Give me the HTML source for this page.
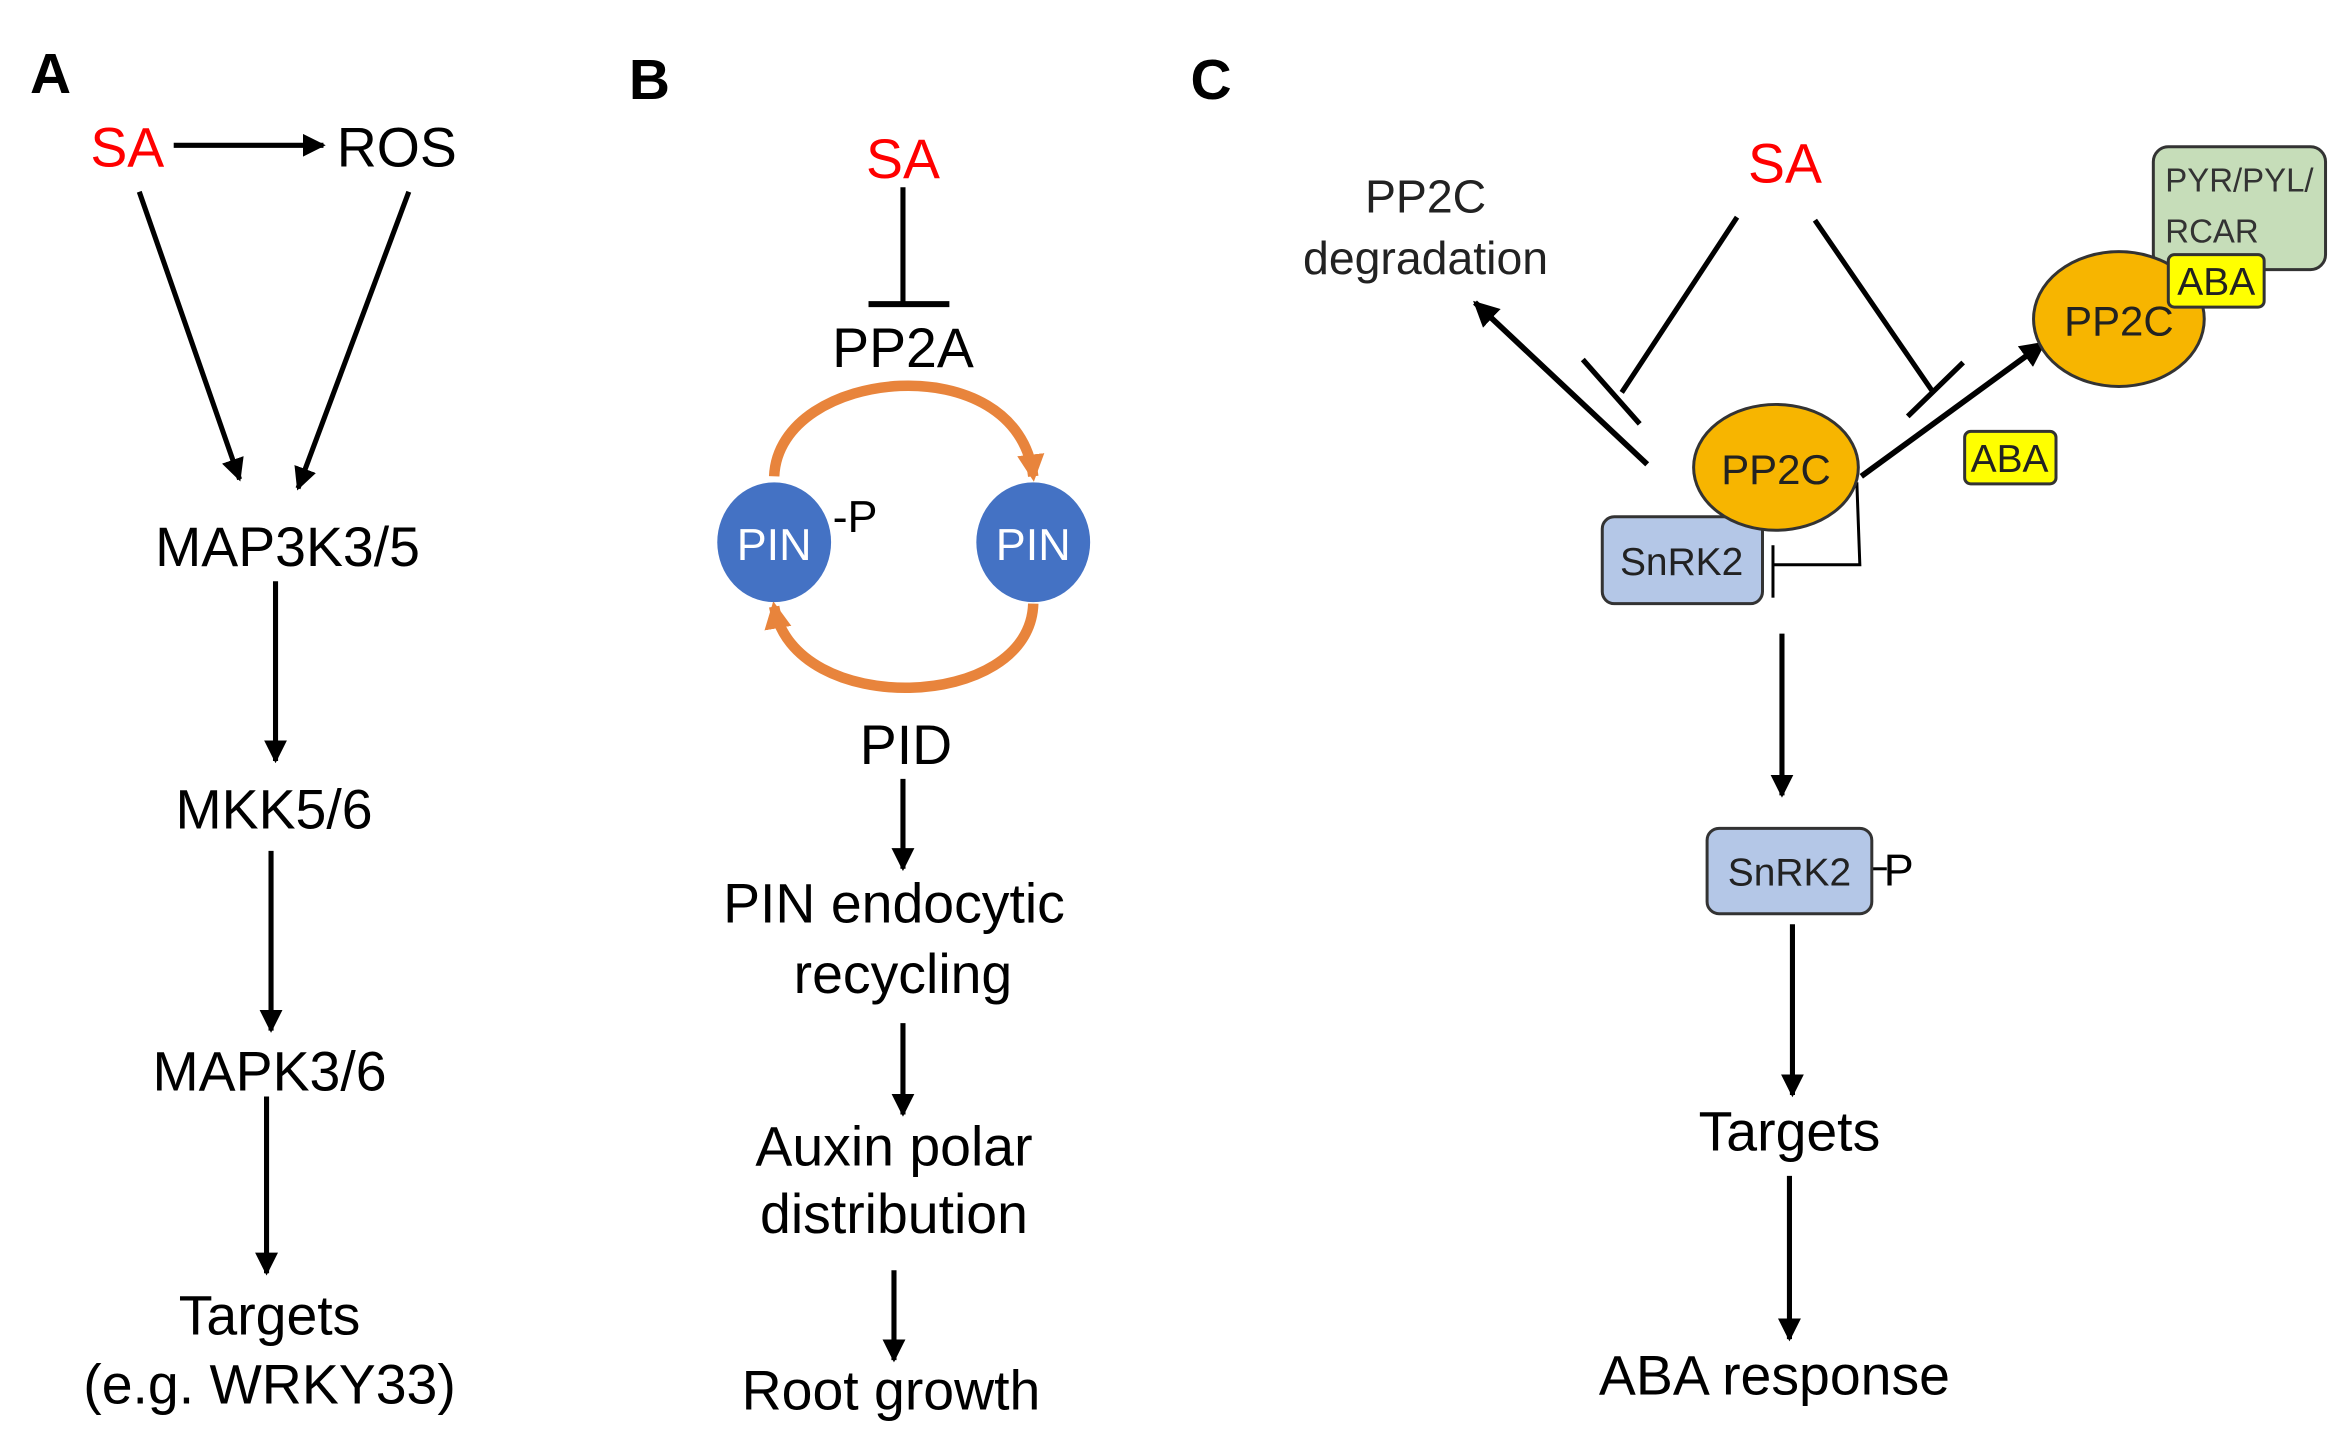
<!DOCTYPE html>
<html><head><meta charset="utf-8"><style>
html,body{margin:0;padding:0;background:#fff;}
svg{display:block;}
text{font-family:"Liberation Sans",Arial,sans-serif;}
</style></head><body>
<svg width="2348" height="1441" viewBox="0 0 1568 962" preserveAspectRatio="none" xmlns="http://www.w3.org/2000/svg">
<defs>
<marker id="ah" viewBox="0 0 10 10" refX="9" refY="5" markerWidth="4.5" markerHeight="4.5" orient="auto" markerUnits="strokeWidth"><path d="M0,0 L10,5 L0,10 z" fill="#000"/></marker>
<marker id="oh" viewBox="0 0 10 10" refX="8" refY="5" markerWidth="2.6" markerHeight="2.6" orient="auto" markerUnits="strokeWidth"><path d="M0,0 L10,5 L0,10 z" fill="#E8843C"/></marker>
</defs>
<g stroke="#000" stroke-width="3.4" fill="none">
<!-- Panel A -->
<line x1="116" y1="97" x2="216" y2="97" marker-end="url(#ah)"/>
<line x1="93" y1="128" x2="160" y2="320" marker-end="url(#ah)"/>
<line x1="273" y1="128" x2="199" y2="326" marker-end="url(#ah)"/>
<line x1="184" y1="388" x2="184" y2="508" marker-end="url(#ah)"/>
<line x1="181" y1="568" x2="181" y2="688" marker-end="url(#ah)"/>
<line x1="178" y1="732" x2="178" y2="850" marker-end="url(#ah)"/>
<!-- Panel B -->
<line x1="603" y1="125" x2="603" y2="203"/>
<line x1="580" y1="203" x2="634" y2="203" stroke-width="4"/>
<line x1="603" y1="520" x2="603" y2="580" marker-end="url(#ah)"/>
<line x1="603" y1="683" x2="603" y2="744" marker-end="url(#ah)"/>
<line x1="597" y1="848" x2="597" y2="908" marker-end="url(#ah)"/>
<!-- Panel C -->
<line x1="1160" y1="145" x2="1083" y2="262"/>
<line x1="1057" y1="240" x2="1095" y2="283" stroke-width="3.5"/>
<line x1="1212" y1="147" x2="1291" y2="262"/>
<line x1="1274" y1="278" x2="1311" y2="242" stroke-width="3.5"/>
<line x1="1100" y1="310" x2="985" y2="202" stroke-width="3.8" marker-end="url(#ah)"/>
<line x1="1243" y1="318" x2="1365" y2="229" stroke-width="3.8" marker-end="url(#ah)"/>
<polyline points="1240,322 1242,377 1184,377" stroke-width="2"/>
<line x1="1184" y1="364" x2="1184" y2="399" stroke-width="2"/>
<line x1="1190" y1="423" x2="1190" y2="531" marker-end="url(#ah)"/>
<line x1="1197" y1="617" x2="1197" y2="731" marker-end="url(#ah)"/>
<line x1="1195" y1="785" x2="1195" y2="894" marker-end="url(#ah)"/>
<line x1="1250" y1="580" x2="1260" y2="580" stroke-width="2"/>
</g>
<!-- orange cycle arrows -->
<path d="M517,318 C520,245 680,230 690,318" stroke="#E8843C" stroke-width="7" fill="none" marker-end="url(#oh)"/>
<path d="M690,403 C688,475 530,480 517,405" stroke="#E8843C" stroke-width="7" fill="none" marker-end="url(#oh)"/>
<ellipse cx="517" cy="362" rx="38" ry="40" fill="#4472C4"/>
<ellipse cx="690" cy="362" rx="38" ry="40" fill="#4472C4"/>
<text x="517" y="374" font-size="30" fill="#fff" text-anchor="middle">PIN</text>
<text x="690" y="374" font-size="30" fill="#fff" text-anchor="middle">PIN</text>
<text x="556" y="355" font-size="30" fill="#000">-P</text>

<!-- Panel C shapes -->
<rect x="1438" y="98" width="115" height="82" rx="10" fill="#C6DDB9" stroke="#333" stroke-width="2"/>
<text x="1446" y="128" font-size="22" fill="#333">PYR/PYL/</text>
<text x="1446" y="162" font-size="22" fill="#333">RCAR</text>
<ellipse cx="1415" cy="213" rx="57" ry="45" fill="#F7B500" stroke="#333" stroke-width="2"/>
<text x="1415" y="224" font-size="28" fill="#222" text-anchor="middle">PP2C</text>
<rect x="1448" y="170" width="64" height="35" rx="4" fill="#FFFF00" stroke="#333" stroke-width="2"/>
<text x="1480" y="197" font-size="26" fill="#222" text-anchor="middle">ABA</text>
<rect x="1312" y="288" width="61" height="35" rx="4" fill="#FFFF00" stroke="#333" stroke-width="2"/>
<text x="1342" y="315" font-size="26" fill="#222" text-anchor="middle">ABA</text>
<rect x="1070" y="345" width="107" height="58" rx="8" fill="#B4C7E7" stroke="#333" stroke-width="2"/>
<text x="1123" y="384" font-size="26" fill="#222" text-anchor="middle">SnRK2</text>
<ellipse cx="1186" cy="312" rx="55" ry="42" fill="#F7B500" stroke="#333" stroke-width="2"/>
<text x="1186" y="323" font-size="28" fill="#222" text-anchor="middle">PP2C</text>
<rect x="1140" y="553" width="110" height="57" rx="8" fill="#B4C7E7" stroke="#333" stroke-width="2"/>
<text x="1195" y="591" font-size="26" fill="#222" text-anchor="middle">SnRK2</text>
<text x="1258" y="591" font-size="30" fill="#000">P</text>

<!-- Labels -->
<g font-weight="bold" font-size="38" fill="#000">
<text x="20" y="62">A</text>
<text x="420" y="66">B</text>
<text x="795" y="66">C</text>
</g>
<g font-size="37" fill="#000" text-anchor="middle">
<text x="85" y="111" fill="#FF0000">SA</text>
<text x="265" y="111">ROS</text>
<text x="192" y="378">MAP3K3/5</text>
<text x="183" y="553">MKK5/6</text>
<text x="180" y="728">MAPK3/6</text>
<text x="180" y="891">Targets</text>
<text x="180" y="937">(e.g. WRKY33)</text>
<text x="603" y="119" fill="#FF0000">SA</text>
<text x="603" y="245">PP2A</text>
<text x="605" y="510">PID</text>
<text x="597" y="616">PIN endocytic</text>
<text x="603" y="663">recycling</text>
<text x="597" y="778">Auxin polar</text>
<text x="597" y="823">distribution</text>
<text x="595" y="941">Root growth</text>
<text x="1192" y="122" fill="#FF0000">SA</text>
<text x="1195" y="768">Targets</text>
<text x="1185" y="931">ABA response</text>
</g>
<g font-size="31" fill="#222" text-anchor="middle">
<text x="952" y="142">PP2C</text>
<text x="952" y="183">degradation</text>
</g>
</svg>
</body></html>
